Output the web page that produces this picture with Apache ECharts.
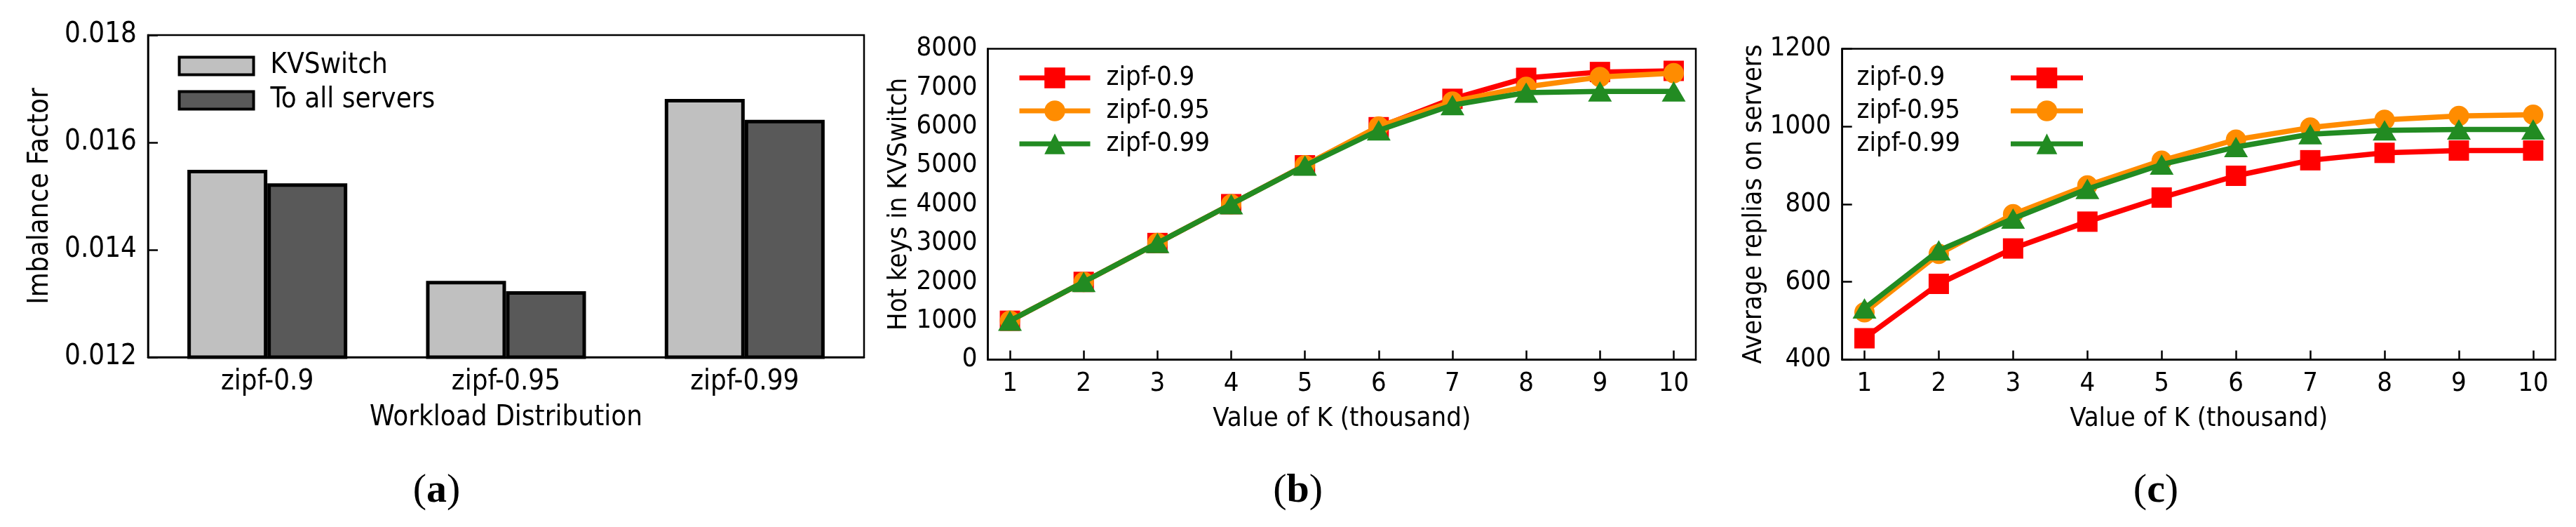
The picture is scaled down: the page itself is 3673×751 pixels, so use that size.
<!DOCTYPE html>
<html>
<head>
<meta charset="utf-8">
<script src="https://cdn.jsdelivr.net/npm/echarts@6/dist/echarts.min.js"></script>
<style>
html,body{margin:0;padding:0;background:#fff;}
#c{width:3673px;height:751px;}
</style>
</head>
<body>
<div id="c"></div>
<script>
// ---- data ----
const categories = ['zipf-0.9', 'zipf-0.95', 'zipf-0.99'];
const kvswitchImbalance = [0.01549, 0.01342, 0.01681];
const toAllImbalance = [0.01524, 0.01323, 0.01642];
const imbalanceTicks = [0.012, 0.014, 0.016, 0.018];

const kValues = [1, 2, 3, 4, 5, 6, 7, 8, 9, 10];
const hot09 = [1000, 2000, 3000, 4000, 5000, 5980, 6710, 7250, 7400, 7430];
const hot095 = [1000, 2000, 3000, 4000, 5000, 6000, 6640, 7020, 7270, 7370];
const hot099 = [1000, 2000, 3000, 4000, 4990, 5900, 6550, 6870, 6900, 6900];
const hotTicks = [0, 1000, 2000, 3000, 4000, 5000, 6000, 7000, 8000];

const rep09 = [455, 595, 686, 755, 817, 873, 913, 932, 938, 938];
const rep095 = [522, 672, 774, 848, 912, 966, 997, 1017, 1027, 1030];
const rep099 = [532, 681, 763, 839, 902, 947, 980, 990, 992, 992];
const repTicks = [400, 600, 800, 1000, 1200];

const seriesNames = ['zipf-0.9', 'zipf-0.95', 'zipf-0.99'];
const panelLabels = ['a', 'b', 'c'];

// ---- style ----
const FF = "'DejaVu Sans Condensed', 'DejaVu Sans', sans-serif";
const RED = '#ff0000', ORANGE = '#ff8c00', GREEN = '#228b22';
const LW = 7.5;

function pairs(xs, ys) { return xs.map((x, i) => [x, ys[i]]); }

const chart = echarts.init(document.getElementById('c'));

const gridCommon = { show: true, borderColor: '#000', borderWidth: 2.5, backgroundColor: 'transparent' };

function lineSeries(name, data, color, symbol, size, xi, yi, z) {
  return {
    type: 'line', name: name, xAxisIndex: xi, yAxisIndex: yi,
    data: pairs(kValues, data),
    symbol: symbol, symbolSize: size,
    lineStyle: { color: color, width: LW },
    itemStyle: { color: color },
    z: z, animation: false
  };
}

const plain = v => String(v);

const option = {
  animation: false,
  backgroundColor: '#fff',
  grid: [
    Object.assign({ left: 211, top: 50, width: 1021, height: 459 }, gridCommon),
    Object.assign({ left: 1408.5, top: 69.4, width: 1009.5, height: 443.1 }, gridCommon),
    Object.assign({ left: 2626.7, top: 69.4, width: 1017, height: 443.1 }, gridCommon)
  ],
  xAxis: [
    {
      gridIndex: 0, type: 'category', data: categories,
      axisLine: { lineStyle: { color: '#000', width: 2.5 } },
      axisTick: { show: false },
      axisLabel: { color: '#000', fontSize: 40, fontFamily: FF, margin: 16 },
      name: 'Workload Distribution', nameLocation: 'middle', nameGap: 67,
      nameTextStyle: { color: '#000', fontSize: 40, fontFamily: FF }
    },
    {
      gridIndex: 1, type: 'value', min: 0.7, max: 10.3,
      axisLine: { lineStyle: { color: '#000', width: 2.5 } },
      axisTick: { show: true, inside: true, length: 13, customValues: kValues, lineStyle: { color: '#000', width: 2.5 } },
      axisLabel: { color: '#000', fontSize: 38, fontFamily: FF, margin: 16, customValues: kValues, formatter: plain },
      splitLine: { show: false },
      name: 'Value of K (thousand)', nameLocation: 'middle', nameGap: 66,
      nameTextStyle: { color: '#000', fontSize: 38, fontFamily: FF }
    },
    {
      gridIndex: 2, type: 'value', min: 0.7, max: 10.3,
      axisLine: { lineStyle: { color: '#000', width: 2.5 } },
      axisTick: { show: true, inside: true, length: 13, customValues: kValues, lineStyle: { color: '#000', width: 2.5 } },
      axisLabel: { color: '#000', fontSize: 38, fontFamily: FF, margin: 16, customValues: kValues, formatter: plain },
      splitLine: { show: false },
      name: 'Value of K (thousand)', nameLocation: 'middle', nameGap: 66,
      nameTextStyle: { color: '#000', fontSize: 38, fontFamily: FF }
    }
  ],
  yAxis: [
    {
      gridIndex: 0, type: 'value', min: imbalanceTicks[0], max: imbalanceTicks[imbalanceTicks.length - 1], interval: 0.002,
      axisLine: { show: true, lineStyle: { color: '#000', width: 2.5 } },
      axisTick: { show: true, inside: true, length: 14, lineStyle: { color: '#000', width: 2.5 } },
      axisLabel: { color: '#000', fontSize: 40, fontFamily: FF, margin: 16, formatter: v => v.toFixed(3) },
      splitLine: { show: false },
      name: 'Imbalance Factor', nameLocation: 'middle', nameGap: 133,
      nameTextStyle: { color: '#000', fontSize: 40, fontFamily: FF }
    },
    {
      gridIndex: 1, type: 'value', min: hotTicks[0], max: hotTicks[hotTicks.length - 1], interval: 1000,
      axisLine: { show: true, lineStyle: { color: '#000', width: 2.5 } },
      axisTick: { show: false },
      axisLabel: { color: '#000', fontSize: 38, fontFamily: FF, margin: 15, formatter: plain },
      splitLine: { show: false },
      name: 'Hot keys in KVSwitch', nameLocation: 'middle', nameGap: 107,
      nameTextStyle: { color: '#000', fontSize: 38, fontFamily: FF }
    },
    {
      gridIndex: 2, type: 'value', min: repTicks[0], max: repTicks[repTicks.length - 1], interval: 200,
      axisLine: { show: true, lineStyle: { color: '#000', width: 2.5 } },
      axisTick: { show: true, inside: true, length: 14, lineStyle: { color: '#000', width: 2.5 } },
      axisLabel: { color: '#000', fontSize: 38, fontFamily: FF, margin: 16, formatter: plain },
      splitLine: { show: false },
      name: 'Average replias on servers', nameLocation: 'middle', nameGap: 98,
      nameTextStyle: { color: '#000', fontSize: 38, fontFamily: FF }
    }
  ],
  legend: [
    {
      data: ['KVSwitch', 'To all servers'], orient: 'vertical',
      left: 248.6, top: 69, itemWidth: 106, itemHeight: 25, itemGap: 9,
      icon: 'rect',
      itemStyle: { borderColor: '#000', borderWidth: 4 },
      textStyle: { color: '#000', fontSize: 40, fontFamily: FF, padding: [0, 0, 0, 19] },
      selectedMode: false
    },
    {
      data: seriesNames, orient: 'vertical',
      left: 1445, top: 87, itemWidth: 101, itemHeight: 37, itemGap: 9,
      lineStyle: { width: 7 },
      textStyle: { color: '#000', fontSize: 38, fontFamily: FF, padding: [0, 0, 0, 18] },
      selectedMode: false
    },
    {
      data: seriesNames, orient: 'vertical', align: 'right',
      left: 2642.5, top: 87, itemWidth: 103, itemHeight: 37, itemGap: 9,
      lineStyle: { width: 7 },
      formatter: '{n|{name}}',
      textStyle: {
        color: '#000', fontSize: 38, fontFamily: FF,
        rich: { n: { width: 214.5, align: 'left', color: '#000', fontSize: 38, fontFamily: FF } }
      },
      selectedMode: false
    }
  ],
  series: [
    {
      type: 'bar', name: 'KVSwitch', xAxisIndex: 0, yAxisIndex: 0, data: kvswitchImbalance,
      barCategoryGap: '33%', barGap: '0%',
      itemStyle: { color: '#c0c0c0', borderColor: '#000', borderWidth: 5 }
    },
    {
      type: 'bar', name: 'To all servers', xAxisIndex: 0, yAxisIndex: 0, data: toAllImbalance,
      barCategoryGap: '33%', barGap: '0%',
      itemStyle: { color: '#595959', borderColor: '#000', borderWidth: 5 }
    },
    lineSeries(seriesNames[0], hot09, RED, 'rect', 29, 1, 1, 3),
    lineSeries(seriesNames[1], hot095, ORANGE, 'circle', 29, 1, 1, 4),
    lineSeries(seriesNames[2], hot099, GREEN, 'triangle', [34, 29], 1, 1, 5),
    lineSeries(seriesNames[0], rep09, RED, 'rect', 29, 2, 2, 3),
    lineSeries(seriesNames[1], rep095, ORANGE, 'circle', 29, 2, 2, 4),
    lineSeries(seriesNames[2], rep099, GREEN, 'triangle', [34, 29], 2, 2, 5)
  ],
  graphic: panelLabels.map((p, i) => ({
    type: 'text',
    x: [622.6, 1850.6, 3074][i], y: 700,
    style: {
      text: '{p|(}{b|' + p + '}{p|)}',
      align: 'center', verticalAlign: 'middle',
      rich: {
        p: { fontFamily: "'Liberation Serif', serif", fontSize: 58, fill: '#000', color: '#000' },
        b: { fontFamily: "'Liberation Serif', serif", fontSize: 58, fontWeight: 'bold', fill: '#000', color: '#000' }
      }
    }
  }))
};

chart.setOption(option);
</script>
</body>
</html>
